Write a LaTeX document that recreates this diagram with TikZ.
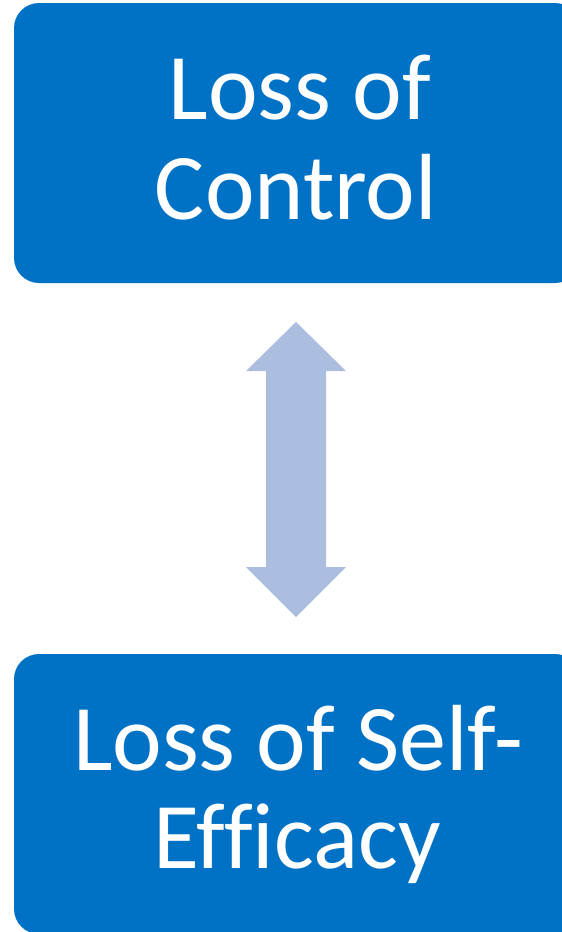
\documentclass[tikz,border=0pt]{standalone}
\usepackage{fontspec}
\setmainfont[Ligatures=NoCommon]{Carlito}
\definecolor{boxblue}{HTML}{0072C6}
\definecolor{arrowblue}{HTML}{ABBEE0}
\tikzset{
  bluebox/.style={fill=boxblue, draw=none, rounded corners=25pt},
  boxtext/.style={text=white, font=\fontsize{94}{100}\selectfont, anchor=base, inner sep=0pt},
  blockarrow/.style={fill=arrowblue, draw=none}
}
\begin{document}
\begin{tikzpicture}[x=1pt,y=-1pt]
\useasboundingbox (0,0) rectangle (562,932);
\clip (0,0) rectangle (562,932);
% boxes
\path[bluebox] (14,3) rectangle (580,283);
\node (topbox) at (297,143) {};
\path[bluebox] (14,654) rectangle (580,934);
\node (botbox) at (297,794) {};
% texts
\node[boxtext] (t1) at (300,119) {Loss of};
\node[boxtext] (t2) at (296,219) {Control};
\node[boxtext] (b1) at (298,770) {Loss of Self-};
\node[boxtext] (b2) at (297,868) {Efficacy};
% double block arrow
\coordinate (atop) at (296,322);
\coordinate (abot) at (296,617);
\path[blockarrow] (atop) -- (346,371) -- (326,371) -- (326,567) -- (346,567)
  -- (abot) -- (246,567) -- (266,567) -- (266,371) -- (246,371) -- cycle;
\end{tikzpicture}
\end{document}
